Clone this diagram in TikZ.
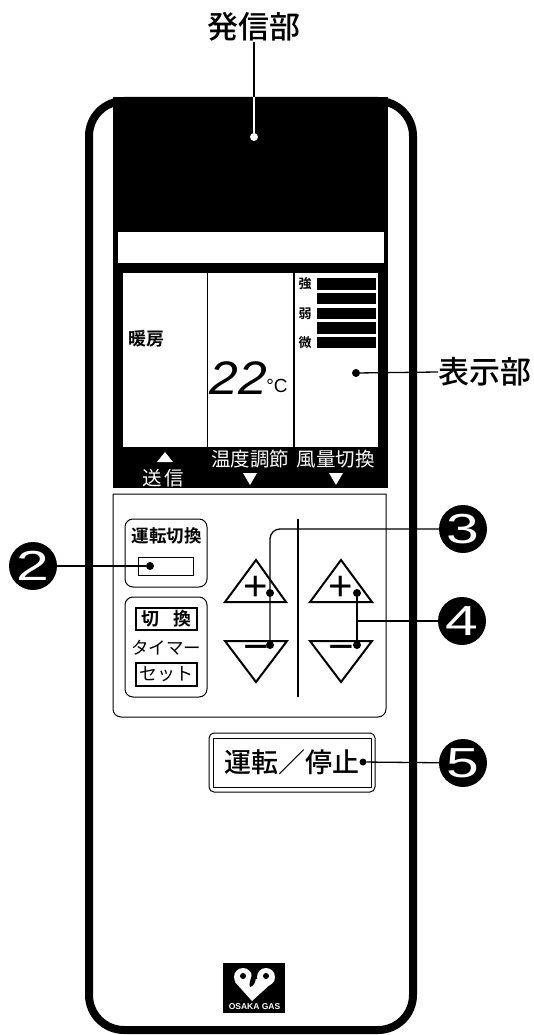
\documentclass[tikz,border=0pt]{standalone}
\usepackage{fontspec}
\setmainfont{Liberation Sans}
\newfontfamily\cjk[BoldFont={Noto Sans CJK JP Medium}]{Noto Sans CJK JP}
\newfontfamily\cjkheavy{Noto Sans CJK JP Bold}
\newcommand{\cjksize}[1]{\cjk\fontsize{#1}{#1}\selectfont}
\newcommand{\heavysize}[1]{\cjkheavy\fontsize{#1}{#1}\selectfont}
\newcommand{\sanssize}[1]{\fontsize{#1}{#1}\selectfont}
\usetikzlibrary{calc, arrows}
\tikzstyle{body}=[draw, line width=8pt, rounded corners=35pt, inner sep=0pt, minimum width=324pt, minimum height=929pt]
\tikzstyle{blackbox}=[fill=black, inner sep=0pt]
\tikzstyle{whitebox}=[fill=white, inner sep=0pt]
\tikzstyle{bar}=[fill=black, inner sep=0pt, minimum width=59pt, minimum height=11.5pt]
\tikzstyle{frame}=[draw, line width=1pt, rounded corners=8pt, inner sep=0pt]
\tikzstyle{keybox}=[draw, line width=1.2pt, inner sep=0pt, minimum width=61pt, minimum height=22pt]
\tikzstyle{spot}=[circle, fill=black, inner sep=0pt, minimum size=8pt]
\tikzstyle{num}=[circle, fill=black, text=white, inner sep=0pt, minimum size=48pt, font=\sanssize{42}]
\tikzstyle{lead}=[line width=1.3pt]
\tikzstyle{key}=[draw, line width=2pt, line join=miter]
\tikzstyle{big}=[inner sep=0pt, font=\cjksize{31}\bfseries]
\tikzstyle{invert}=[inner sep=0pt, text=white, font=\cjksize{19.5}]
\begin{document}
\begin{tikzpicture}[x=1pt,y=-1pt]
  \useasboundingbox (0,0) rectangle (533,1035);
  \node [body] (remote) at (251,565.5) {};
  \node [blackbox, minimum width=275pt, minimum height=391pt] (head) at (250.5,292.5) {};
  \node [whitebox, minimum width=266pt, minimum height=31pt] (strip) at (251,247.5) {};
  \node [whitebox, minimum width=84pt, minimum height=174pt] (lcda) at (165,360) {};
  \node [whitebox, minimum width=85pt, minimum height=174pt] (lcdb) at (250.5,360) {};
  \node [whitebox, minimum width=83pt, minimum height=174pt] (lcdc) at (336.5,360) {};
  \foreach \y in {284,298.5,313.5,328,342.5}
    \node [bar] at (346.5,\y) {};
  \node [inner sep=0pt, font=\heavysize{13}] (strong) at (305,284) {強};
  \node [inner sep=0pt, font=\heavysize{13}] (weak) at (305,313.5) {弱};
  \node [inner sep=0pt, font=\heavysize{13}] (faint) at (305,342.5) {微};
  \node [inner sep=0pt, font=\heavysize{18}] (mode) at (146,339) {暖房};
  \node [inner sep=0pt, font=\itshape\sanssize{47}, xscale=1.1] (temp) at (238.5,378) {22};
  \node [inner sep=0pt, font=\sanssize{19}] (unit) at (277,386) {°C};
  \node [invert] (send) at (163,478) {送\hspace{3pt}信};
  \node [invert] (humid) at (250,459) {温度調節};
  \node [invert] (wind) at (335.5,459) {風量切換};
  \fill [white] (157,462) -- (165,452) -- (173,462) -- cycle;
  \fill [white] (243,473) -- (257,473) -- (250,485) -- cycle;
  \fill [white] (329,473) -- (343,473) -- (336,485) -- cycle;
  \draw [line width=1pt, rounded corners=0pt] (113,494) -- (386,494) [rounded corners=8pt] -- (386,717) -- (113,717) -- (113,494);
  \node [frame, minimum width=82pt, minimum height=68pt] (modebox) at (166,553) {};
  \node [inner sep=0pt, font=\heavysize{17.5}] (modetext) at (166.5,536) {運転切換};
  \node [draw, line width=1pt, inner sep=0pt, minimum width=55pt, minimum height=18pt] (modekey) at (165.5,566) {};
  \node [frame, minimum width=82pt, minimum height=100pt] (timerbox) at (166,647) {};
  \node [keybox, font=\heavysize{18}] (switch) at (166.5,619) {切\hspace{14pt}換};
  \node [inner sep=0pt, font=\cjksize{17.5}] (timer) at (166,648) {タイマー};
  \node [keybox, minimum height=23pt, font=\cjksize{18}] (set) at (166.5,674.5) {セット};
  \draw [line width=1.4pt] (298,519) -- (298,697);
  \draw [key] (225,602) -- (256,560) -- (286,602) -- cycle;
  \draw [key] (225,641) -- (287,641) -- (256,682) -- cycle;
  \draw [key] (310,602) -- (341,560) -- (372,602) -- cycle;
  \draw [key] (310,641) -- (372,641) -- (341,682) -- cycle;
  \node [inner sep=0pt, font=\sanssize{42}] (plusa) at (256,588) {+};
  \node [inner sep=0pt, font=\sanssize{44}] (minusa) at (256,653) {−};
  \node [inner sep=0pt, font=\sanssize{42}] (plusb) at (341,588) {+};
  \node [inner sep=0pt, font=\sanssize{44}] (minusb) at (341,653) {−};
  \node [frame, line width=1pt, rounded corners=5pt, minimum width=166pt, minimum height=59pt] (runbox) at (292,762.5) {};
  \node [draw, line width=1pt, inner sep=0pt, minimum width=158pt, minimum height=49pt] (runinner) at (292,762.5) {};
  \node [inner sep=0pt, font=\cjksize{27}\bfseries] (run) at (291.5,762) {運転／停止};
  \node [big] (lab1) at (254,27) {発信部};
  \node [big, anchor=west] (lab6) at (438,372) {表示部};
  \node [num] (num2) at (33,566) {\scalebox{1.4}[1]{2}};
  \node [num] (num3) at (463,529) {\scalebox{1.4}[1]{3}};
  \node [num] (num4) at (462,621) {\scalebox{1.4}[1]{4}};
  \node [num] (num5) at (463,763) {\scalebox{1.4}[1]{5}};
  \node [spot, fill=white] (spota) at (254,137) {};
  \node [spot] (spotb) at (356,373) {};
  \node [spot] (spotc) at (150,566) {};
  \node [spot] (spotd) at (270,593) {};
  \node [spot] (spote) at (270,645) {};
  \node [spot] (spotf) at (357,593) {};
  \node [spot] (spotg) at (357,645) {};
  \node [spot, minimum size=7pt] (spoth) at (363,762) {};
  \coordinate (edge) at (254,97);
  \draw [lead] (lab1) -- (edge);
  \draw [lead, white] (edge) -- (spota);
  \draw [lead] (spotb) -- (lab6.west);
  \draw [lead] (num2) -- (spotc);
  \draw [lead, rounded corners=10pt] (num3) -- (num3 -| spotd) -- (spote);
  \draw [lead] (spotf) -- (spotg);
  \draw [lead] (num4) -- (num4 -| spotf);
  \draw [lead] (spoth) -- (num5);
  \node [blackbox, minimum width=62pt, minimum height=50pt] (logo) at (254,988) {};
  \fill [white] (243,977) circle (9pt) (266,977) circle (9pt);
  \fill [white] (235,982) -- (252,1001) -- (274,981) -- (262,979) -- (248,979) -- cycle;
  \fill [black] (243,976) circle (3pt) (266,976) circle (3pt);
  \fill [black] (256,968) .. controls (256,976) and (257,985) .. (250,987) .. controls (248,984) and (252,978) .. (253,968) -- cycle;
  \node [inner sep=0pt, text=white, font=\bfseries\sanssize{8.5}] (brand) at (254.5,1007) {OSAKA GAS};
\end{tikzpicture}
\end{document}
